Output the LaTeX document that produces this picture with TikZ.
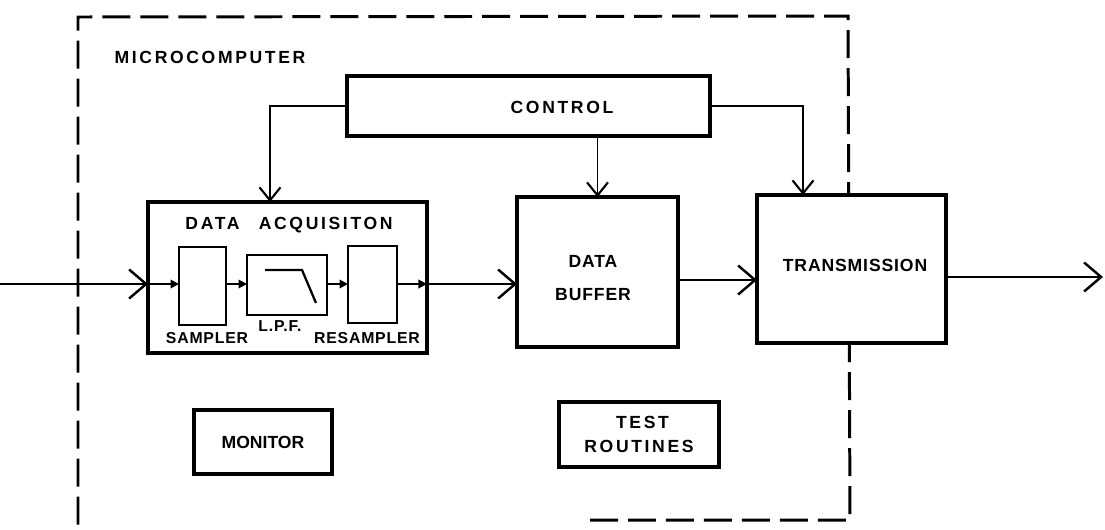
\documentclass[tikz,border=0pt]{standalone}
\usepackage{fontspec}
\newfontfamily\lab{Liberation Sans}[LetterSpace=15]
\newfontfamily\labn{Liberation Sans}[LetterSpace=5]
\newfontfamily\labz{Liberation Sans}
\usetikzlibrary{arrows.meta}
\tikzset{
  box/.style={draw, line width=2.1pt, fill=white, inner sep=0pt, outer sep=0pt, font=\lab\bfseries\fontsize{10}{14}\selectfont, align=center},
  smallbox/.style={draw, line width=1.6pt, fill=white, inner sep=0pt, outer sep=0pt},
  txt/.style={font=\lab\bfseries\fontsize{10}{14}\selectfont, inner sep=0pt, align=center},
  ntxt/.style={font=\labn\bfseries\fontsize{10}{14}\selectfont, inner sep=0pt, align=center},
  smalltxt/.style={font=\labn\bfseries\fontsize{9}{12}\selectfont, inner sep=0pt},
  bigarrow/.style={line width=1.2pt, -{Straight Barb[length=0.34cm, width=0.58cm, line width=1.4pt]}},
  ctlarrow/.style={line width=1.1pt, -{Straight Barb[length=0.26cm, width=0.42cm, line width=1.2pt]}},
  tinyarrow/.style={line width=1.1pt, -{Triangle[length=0.17cm, width=0.17cm]}},
  boundary/.style={line width=1.7pt, dash pattern=on 0.56cm off 0.2cm, line join=miter},
}
\begin{document}
\begin{tikzpicture}[x=0.02cm, y=-0.02cm]
\useasboundingbox (0,0) rectangle (1105,529);

% dashed microcomputer boundary
\coordinate (bA) at (590,520);
\coordinate (bB) at (850,520);
\coordinate (bC) at (848,16);
\coordinate (bD) at (78,17);
\coordinate (bE) at (78,529);
\draw[boundary] (bA) -- (bB) -- (bC) -- (bD) -- (bE);

\node[txt] (micro) at (210,57) {MICROCOMPUTER};

% boxes
\node[box, minimum width=7.26cm, minimum height=1.2cm] (control) at (528.5,106) {};
\node[txt] (controltxt) at (562,107) {CONTROL};

\node[box, minimum width=5.58cm, minimum height=3.02cm] (daq) at (287.5,277.5) {};
\node[txt] (daqtxt) at (289,225) {DATA\hspace{1.1em}ACQUISITON};

\node[smallbox, minimum width=0.94cm, minimum height=1.56cm] (sampler) at (202.5,286) {};
\node[smallbox, minimum width=1.6cm, minimum height=1.2cm] (lpf) at (287,285) {};
\node[smallbox, minimum width=0.98cm, minimum height=1.54cm] (resampler) at (372.5,284.5) {};
\coordinate (f1) at (265,270);
\coordinate (f2) at (302,270);
\coordinate (f3) at (316,303);
\draw[line width=1.3pt] (f1) -- (f2) -- (f3);

\node[smalltxt] (samplertxt) at (207,338) {SAMPLER};
\node[smalltxt] (lpftxt) at (280,326) {L.P.F.};
\node[smalltxt] (resamplertxt) at (367,338) {RESAMPLER};

\node[box, minimum width=3.22cm, minimum height=3.0cm] (buffer) at (597.5,272) {};
\node[ntxt] (buffertxt) at (593,278) {DATA\\[5pt]BUFFER};
\node[box, minimum width=3.78cm, minimum height=2.96cm] (trans) at (851.5,269) {};
\node[ntxt] (transtxt) at (855,265) {TRANSMISSION};

\node[box, minimum width=2.76cm, minimum height=1.28cm, font=\labz\bfseries\fontsize{10}{14}\selectfont] (monitor) at (263,442) {MONITOR};
\node[box, minimum width=3.2cm, minimum height=1.3cm] (test) at (639,434.5) {\hspace*{0.4em}TEST\\ROUTINES};

% signal path
\coordinate (in) at (0,284);
\coordinate (out) at (1103,277);
\draw[line width=1.2pt] (in) -- (daq.west |- in);
\draw[tinyarrow] (daq.west |- in) -- (sampler.west |- in);
\draw[tinyarrow] (sampler.east |- in) -- (lpf.west |- in);
\draw[tinyarrow] (lpf.east |- in) -- (resampler.west |- in);
\draw[tinyarrow] (resampler.east |- in) -- (daq.east |- in);
\draw[bigarrow] (in) -- (daq.west |- in);
\draw[bigarrow] (daq.east |- in) -- (buffer.west |- in);
\coordinate (bt) at (0,280);
\draw[bigarrow] (buffer.east |- bt) -- (trans.west |- bt);
\draw[bigarrow] (trans.east |- out) -- (out);

% control lines
\coordinate (c1) at (270,0);
\coordinate (c3) at (803,0);
\draw[ctlarrow] (control.west) -| (c1 |- daq.north);
\draw[ctlarrow] (control.south -| buffer.north) -- (buffer.north);
\draw[ctlarrow] (control.east) -| (c3 |- trans.north);
\end{tikzpicture}
\end{document}
